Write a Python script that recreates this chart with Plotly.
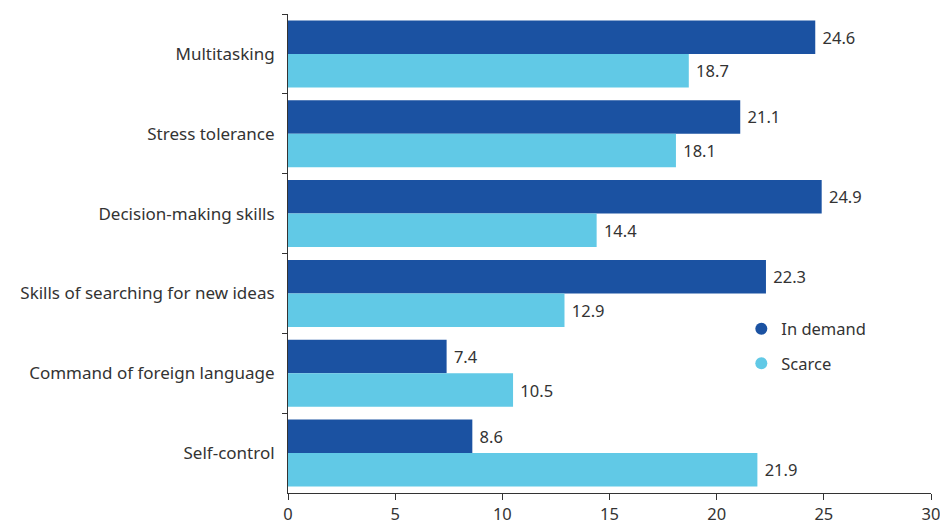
import plotly.graph_objects as go

categories = [
    "Multitasking",
    "Stress tolerance",
    "Decision-making skills",
    "Skills of searching for new ideas",
    "Command of foreign language",
    "Self-control",
]
in_demand = [24.6, 21.1, 24.9, 22.3, 7.4, 8.6]
scarce = [18.7, 18.1, 14.4, 12.9, 10.5, 21.9]
x_ticks = [0, 5, 10, 15, 20, 25, 30]

DARK = "#1b52a2"
LIGHT = "#61c9e6"
TEXT = "#333333"
FONT = "Noto Sans"

fig = go.Figure()
for name, vals, color in [("In demand", in_demand, DARK), ("Scarce", scarce, LIGHT)]:
    fig.add_trace(go.Bar(
        y=categories, x=vals, orientation="h", name=name,
        marker=dict(color=color, line=dict(width=0)),
        text=[f"{v:.1f}" for v in vals], textposition="outside",
        texttemplate=" %{text}",
        textfont=dict(size=16.5, color=TEXT, family=FONT),
        cliponaxis=False, showlegend=False,
    ))
    # circular legend markers
    fig.add_trace(go.Scatter(
        x=[None], y=[None], mode="markers", name=name, legendgroup=name,
        marker=dict(color=color, size=16, symbol="circle"),
    ))

fig.update_layout(
    width=940, height=526,
    margin=dict(l=288, r=9, t=14, b=33),
    paper_bgcolor="white", plot_bgcolor="white",
    barmode="group", bargap=0.16, bargroupgap=0,
    font=dict(family=FONT, size=16, color=TEXT),
    legend=dict(x=0.705, y=0.379, xanchor="left", yanchor="top",
                font=dict(size=16.5, color=TEXT, family=FONT),
                bgcolor="rgba(0,0,0,0)", itemsizing="constant",
                tracegroupgap=10),
    showlegend=True,
)
fig.update_xaxes(
    range=[0, 30], tickvals=x_ticks, showgrid=False, zeroline=False,
    showline=True, linecolor="#333333", linewidth=1,
    ticks="outside", ticklen=6, tickcolor="#333333", automargin=False,
    ticklabeloverflow="allow",
    tickfont=dict(size=16.5, color=TEXT, family=FONT),
)
fig.update_yaxes(
    autorange="reversed", showgrid=False, zeroline=False,
    showline=True, linecolor="#333333", linewidth=1, automargin=False,
    ticks="outside", ticklen=5, tickcolor="#333333", tickson="boundaries",
    tickfont=dict(size=17, color=TEXT, family=FONT), ticklabelstandoff=9,
)

fig.write_html("out.html")
